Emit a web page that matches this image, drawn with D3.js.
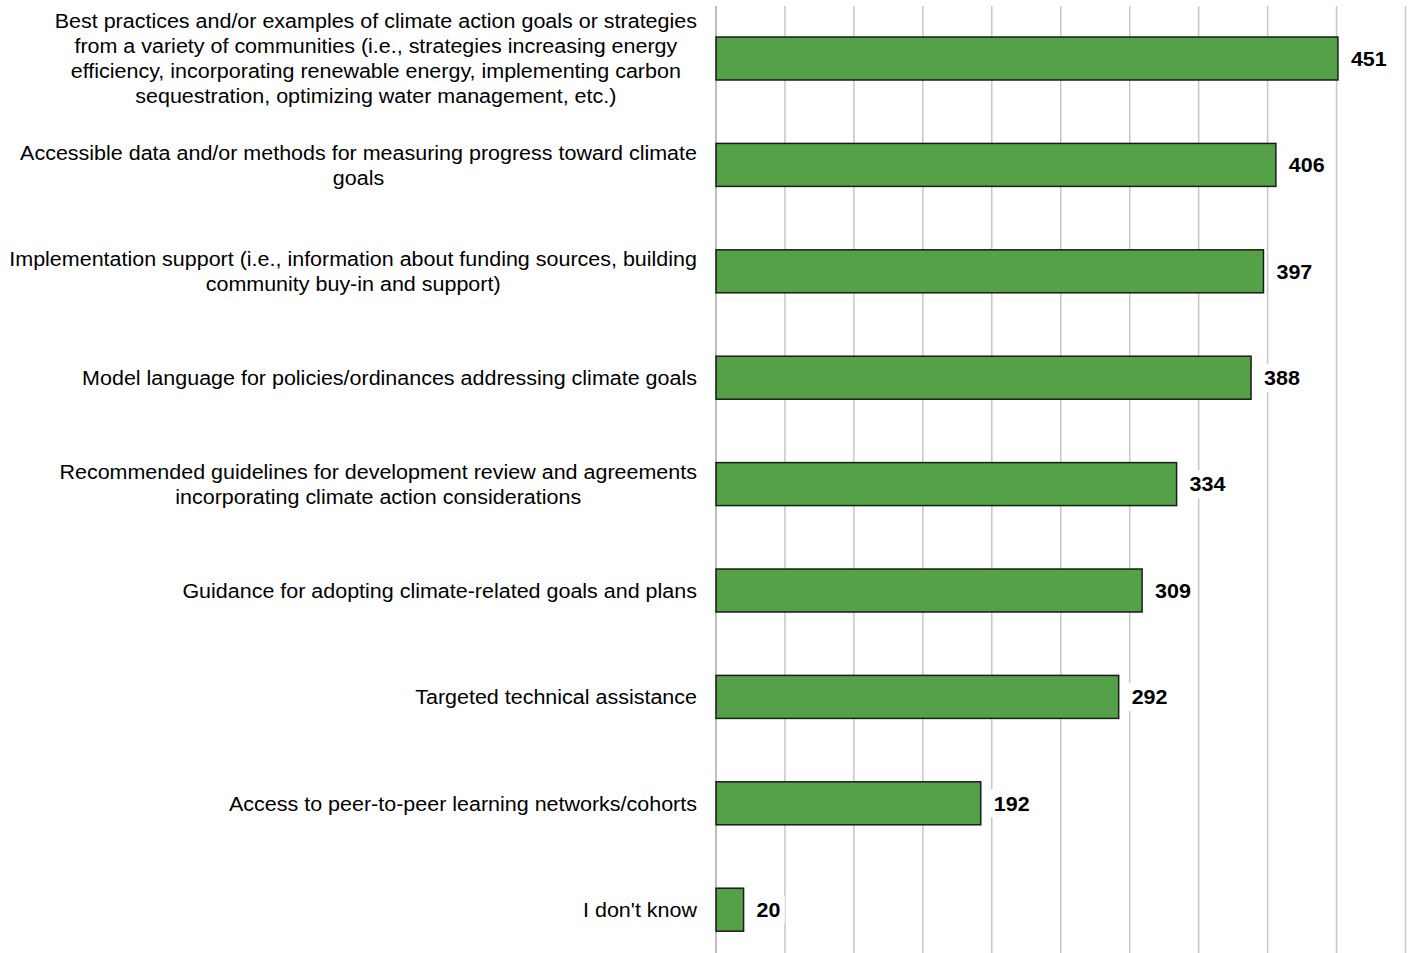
<!DOCTYPE html>
<html>
<head>
<meta charset="utf-8">
<script src="https://cdn.jsdelivr.net/npm/d3@7/dist/d3.min.js"></script>
<style>
  html, body { margin: 0; padding: 0; background: #ffffff; }
  svg { display: block; }
  text { font-family: "Liberation Sans", Arial, sans-serif; }
</style>
</head>
<body>
<svg id="chart" width="1411" height="953"></svg>
<script>
// Survey responses: resources that would help with climate action
const categories = [
  "Best practices and/or examples of climate action goals or strategies\nfrom a variety of communities (i.e., strategies increasing energy\nefficiency, incorporating renewable energy, implementing carbon\nsequestration, optimizing water management, etc.)",
  "Accessible data and/or methods for measuring progress toward climate\ngoals",
  "Implementation support (i.e., information about funding sources, building\ncommunity buy-in and support)",
  "Model language for policies/ordinances addressing climate goals",
  "Recommended guidelines for development review and agreements\nincorporating climate action considerations",
  "Guidance for adopting climate-related goals and plans",
  "Targeted technical assistance",
  "Access to peer-to-peer learning networks/cohorts",
  "I don't know"
];
const responses = [451, 406, 397, 388, 334, 309, 292, 192, 20];
const gridTicks = [0, 50, 100, 150, 200, 250, 300, 350, 400, 450, 500];

const svg = d3.select("#chart");
const W = 1411, H = 953;
const plotLeft = 716, plotRight = 1405.5;
const stretch = 1.074; // text is set slightly wide

const x = d3.scaleLinear().domain([0, 500]).range([plotLeft, plotRight]);
const y = d3.scaleBand().domain(d3.range(categories.length))
  .range([5.3, 962.9]).paddingInner(0.596).paddingOuter(0.298);

// vertical gridlines
svg.append("g").selectAll("line")
  .data(gridTicks.slice(1))
  .join("line")
  .attr("x1", d => x(d)).attr("x2", d => x(d))
  .attr("y1", 6).attr("y2", H)
  .attr("stroke", "#c6c6c6").attr("stroke-width", 1.5);

// category axis line
svg.append("line")
  .attr("x1", x(0)).attr("x2", x(0))
  .attr("y1", 6).attr("y2", H)
  .attr("stroke", "#a8a8a8").attr("stroke-width", 1.5);

// bars
svg.append("g").selectAll("rect")
  .data(responses)
  .join("rect")
  .attr("x", x(0))
  .attr("y", (d, i) => y(i))
  .attr("width", d => x(d) - x(0))
  .attr("height", y.bandwidth())
  .attr("fill", "#54a147")
  .attr("stroke", "#1c1c1c")
  .attr("stroke-width", 1.5);

// value labels on a white backing
const vals = svg.append("g").selectAll("g")
  .data(responses)
  .join("g")
  .attr("transform", (d, i) => `translate(${x(d) + 13},${y(i) + y.bandwidth() / 2}) scale(${stretch},1)`);
vals.append("text")
  .attr("dominant-baseline", "central")
  .attr("font-size", 20)
  .attr("font-weight", "bold")
  .attr("fill", "#000")
  .text(d => d)
  .each(function () {
    const b = this.getBBox();
    d3.select(this.parentNode).insert("rect", "text")
      .attr("x", b.x - 4).attr("y", b.y - 3)
      .attr("width", b.width + 8).attr("height", b.height + 6)
      .attr("fill", "#fff");
  });

// category labels: each block centred, right edge aligned near the axis
const lineH = 25;
const labelRight = 697;
const labels = svg.append("g").selectAll("g")
  .data(categories)
  .join("g");
labels.each(function (d, i) {
  const g = d3.select(this);
  const lines = d.split("\n");
  const cy = y(i) + y.bandwidth() / 2;
  const t = g.append("text")
    .attr("font-size", 20)
    .attr("fill", "#000")
    .attr("text-anchor", "middle");
  lines.forEach((ln, k) => {
    t.append("tspan")
      .attr("x", 0)
      .attr("y", cy + (k - (lines.length - 1) / 2) * lineH)
      .attr("dominant-baseline", "central")
      .text(ln);
  });
  const w = d3.max(t.selectAll("tspan").nodes(), n => n.getComputedTextLength()) * stretch;
  t.attr("transform", `translate(${labelRight - w / 2},0) scale(${stretch},1)`);
});
</script>
</body>
</html>
